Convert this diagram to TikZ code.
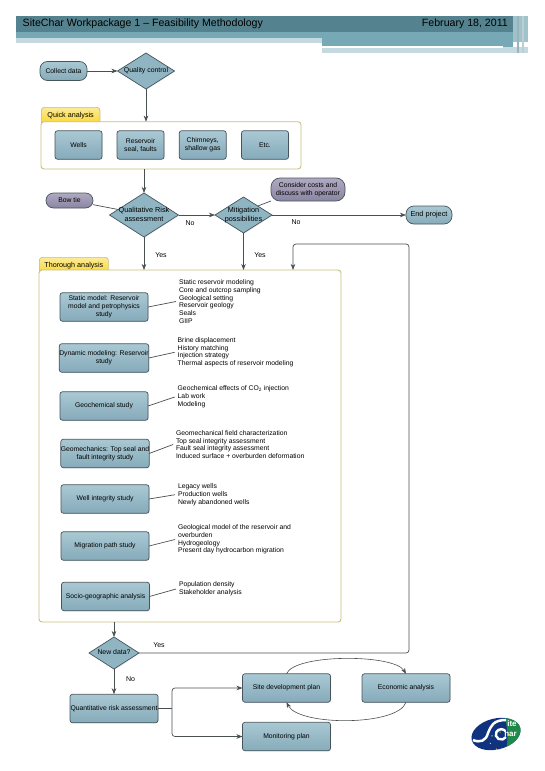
\documentclass[tikz,border=0pt]{standalone}
\usepackage{fontspec}
\setmainfont{Liberation Sans}
\usetikzlibrary{arrows.meta, positioning, shapes.geometric, shadows}
\definecolor{cHead}{HTML}{54838F}
\definecolor{cHeadMid}{HTML}{77A8B5}
\definecolor{cHeadPale}{HTML}{C4DAE0}
\definecolor{cBoxTop}{HTML}{A9C8D3}
\definecolor{cBoxBot}{HTML}{86ABBA}
\definecolor{cDiam}{HTML}{8FB5C3}
\definecolor{cTermTop}{HTML}{B0A9C2}
\definecolor{cTermBot}{HTML}{8A85A2}
\definecolor{cEdge}{HTML}{46545C}
\definecolor{cPanel}{HTML}{C9BF7C}
\definecolor{cTabTop}{HTML}{FBEB9A}
\definecolor{cTabBot}{HTML}{FBD420}
\definecolor{cLine}{HTML}{4A4F52}
\definecolor{cLogo}{HTML}{10337F}
\definecolor{cLogoG}{HTML}{1E8A4A}
\newcommand{\dtext}[1]{\smash{\raisebox{-0.25em}{\makebox[0pt]{\begin{tabular}{@{}c@{}}#1\end{tabular}}}}}

\begin{document}
\begin{tikzpicture}[x=1pt, y=-1pt,
    >=Stealth,
    box/.style={
        rectangle, rounded corners=2.5pt, draw=cEdge, top color=cBoxTop, bottom color=cBoxBot,
        line width=0.7pt, minimum height=#1, minimum width=47pt, inner sep=0pt, outer sep=0pt,
        font=\fontsize{6.8}{8}\selectfont, align=center, text=black,
        drop shadow={opacity=0.12, shadow xshift=0.8pt, shadow yshift=-0.8pt}
    },
    box/.default=28.5pt,
    study/.style={box=28.5pt, minimum width=88pt},
    diam/.style={
        diamond, draw=cEdge, fill=cDiam, line width=0.7pt, inner sep=0pt, outer sep=0pt,
        font=\fontsize{#1}{8.7}\selectfont, text=black,
        drop shadow={opacity=0.12, shadow xshift=0.8pt, shadow yshift=-0.8pt}
    },
    diam/.default=6.9,
    term/.style={
        rectangle, rounded corners=7.5pt, draw=cEdge, line width=0.7pt, outer sep=0pt, inner sep=0pt,
        font=\fontsize{6.8}{8}\selectfont, align=center, text=black
    },
    bluet/.style={term, top color=cBoxTop, bottom color=cBoxBot},
    greyt/.style={term, top color=cTermTop, bottom color=cTermBot},
    panel/.style={
        rectangle, rounded corners=3pt, draw=cPanel, fill=white, line width=0.9pt,
        anchor=north west, outer sep=0pt, inner sep=0pt
    },
    tabbox/.style={
        rectangle, rounded corners=3pt, draw=cPanel, top color=cTabTop, bottom color=cTabBot,
        line width=0.7pt, anchor=north west, inner ysep=0pt, text height=10.5pt, text depth=8pt,
        font=\fontsize{7.2}{8}\selectfont, text=black
    },
    txtlist/.style={
        anchor=west, align=left, inner sep=3pt, outer sep=0pt,
        font=\fontsize{6.8}{7.8}\selectfont, text=black
    },
    lbl/.style={font=\fontsize{7}{8}\selectfont, text=black},
    arr/.style={->, line width=0.7pt, color=cLine},
    lnk/.style={line width=0.7pt, color=cLine},
    curv/.style={->, line width=0.6pt, color=cLine},
]
\useasboundingbox (0,0) rectangle (544,771);

% Header band
\fill[cHeadPale] (16,38) rectangle (322,42.5);
\fill[cHeadMid] (322,38) rectangle (513,47);
\fill[cHeadPale] (322,47) rectangle (528,52.7);
\fill[white] (322,46) rectangle (503,47.6);
\fill[cHeadMid] (16,31.5) rectangle (528,38);
\fill[cHead] (16,16) rectangle (513,31.5);
\fill[cHeadMid!70] (513,16) rectangle (528,42);
\fill[cHead!60] (517,16) rectangle (519,52.7);
\fill[cHead!40] (522,16) rectangle (524,52.7);
\node[anchor=west, inner sep=0pt, font=\fontsize{10.6}{12}\selectfont] (title) at (22.5,23.7) {SiteChar Workpackage 1 – Feasibility Methodology};
\node[anchor=east, inner sep=0pt, font=\fontsize{10.6}{12}\selectfont] (date) at (508,23.7) {February 18, 2011};

% Top row
\node[bluet, minimum width=47pt, minimum height=19pt] (collect) at (63.5,71) {Collect data};
\node[diam, minimum width=57pt, minimum height=36pt] (quality) at (146,71) {\dtext{Quality control}};

% Quick analysis
\node[tabbox, minimum width=58.6pt, minimum height=18.5pt] (quicktab) at (41,107) {Quick analysis};
\node[panel, minimum width=260pt, minimum height=47.3pt] (quick) at (41,121.7) {};
\node[box] (wells)  at ( 78.5,145) {Wells};
\node[box] (seal)   at (140.5,145) {Reservoir\\seal, faults};
\node[box] (chim)   at (202.7,145) {Chimneys,\\shallow gas};
\node[box] (etc)    at (265.0,145) {Etc.};

% Risk row
\node[diam=7.3, minimum width=69pt, minimum height=44pt] (qual) at (144,215) {\dtext{Qualitative Risk\\assessment}};
\node[diam=7.3, minimum width=57pt, minimum height=36pt] (mitig) at (243.5,215) {\dtext{Mitigation\\possibilities}};
\node[greyt, minimum width=47pt, minimum height=15pt] (bowtie) at (69.5,200.5) {Bow tie};
\node[greyt, rounded corners=9pt, minimum width=74pt, minimum height=23pt] (costs) at (308,189.5) {Consider costs and\\discuss with operator};
\node[bluet, rounded corners=8pt, font=\fontsize{7.3}{8}\selectfont, minimum width=46pt, minimum height=18pt] (endp) at (429,215) {End project};

% Thorough analysis
\node[tabbox, minimum width=69pt, minimum height=17pt] (thorotab) at (39,257) {Thorough analysis};
\node[panel, minimum width=302pt, minimum height=352pt] (thoro) at (39,270) {};

\node[study] (static)  at (104,307) {Static model: Reservoir\\model and petrophysics\\study};
\node[study] (dynamic) at (104,358) {Dynamic modeling: Reservoir\\study};
\node[study] (geochem) at (104,406) {Geochemical study};
\node[study] (geomech) at (105,453.5) {Geomechanics: Top seal and\\fault integrity study};
\node[study] (well)    at (105,499) {Well integrity study};
\node[study] (migr)    at (105,546) {Migration path study};
\node[study] (socio)   at (105.5,596.5) {Socio-geographic analysis};

\node[txtlist] (staticl)  at (176,301.5) {Static reservoir modeling\\Core and outcrop sampling\\Geological setting\\Reservoir geology\\Seals\\GIIP};
\node[txtlist] (dynamicl) at (174.7,352.3) {Brine displacement\\History matching\\Injection strategy\\Thermal aspects of reservoir modeling};
\node[txtlist] (geochemi) at (174.7,397) {Geochemical effects of CO\textsubscript{2} injection\\Lab work\\Modeling};
\node[txtlist] (geomechl) at (173,444.5) {Geomechanical field characterization\\Top seal integrity assessment\\Fault seal integrity assessment\\Induced surface + overburden deformation};
\node[txtlist] (welll)    at (175,494.7) {Legacy wells\\Production wells\\Newly abandoned wells};
\node[txtlist] (migrl)    at (175,539.5) {Geological model of the reservoir and\\overburden\\Hydrogeology\\Present day hydrocarbon migration};
\node[txtlist] (sociol)   at (176,589) {Population density\\Stakeholder analysis};

% Bottom section
\node[diam=6.9, minimum width=50pt, minimum height=32pt] (newdata) at (114,653) {\dtext{New data?}};
\node[study] (quant) at (114,708.5) {Quantitative risk assessment};
\node[study] (site)  at (286.5,688) {Site development plan};
\node[study] (econ)  at (406,688) {Economic analysis};
\node[study] (moni)  at (286.5,736.5) {Monitoring plan};

% Labels
\node[lbl] (no1)  at (190,223) {No};
\node[lbl] (no2)  at (296,222.5) {No};
\node[lbl] (yes1) at (161,255) {Yes};
\node[lbl] (yes2) at (260,255) {Yes};
\node[lbl] (yes3) at (159,645) {Yes};
\node[lbl] (no3)  at (130.5,679) {No};

% Free ends of the loop and the fork
\coordinate (loopin) at (293,270);
\coordinate (loopr)  at (409,653);
\coordinate (forkx)  at (172,708.5);

% Arrows - top section
\draw[arr] (collect) -- (quality);
\draw[arr] (quality.south) -- (quality.south |- quick.north);
\draw[arr] (qual.north |- quick.south) -- (qual.north);
\draw[arr] (qual) -- (mitig);
\draw[arr] (mitig) -- (endp);
\draw[arr] (qual.south) -- (qual.south |- thoro.north);
\draw[arr] (mitig.south) -- (mitig.south |- thoro.north);
\draw[lnk] (bowtie.-10) -- (qual.168);
\draw[lnk] (mitig.north east) -- (costs.south west);

% Arrows - studies to their lists
\foreach \a/\b in {static/staticl, dynamic/dynamicl, geochem/geochemi, geomech/geomechl, well/welll, migr/migrl, socio/sociol}
    \draw[lnk] (\a.east) -- (\b.west);

% Arrows - bottom section
\draw[arr] (newdata.north |- thoro.south) -- (newdata.north);
\draw[arr] (newdata) -- (quant);
\draw[arr, rounded corners=3pt] (newdata.east) -- (loopr) -- (loopr |- 0,244) -- (loopin |- 0,244) -- (loopin);
\draw[lnk] (quant.east) -- (forkx);
\draw[arr, rounded corners=3pt] (forkx) |- (site.west);
\draw[arr, rounded corners=3pt] (forkx) |- (moni.west);
\draw[curv] (site.north) .. controls +(8,-20) and +(-12,-20) .. (econ.north);
\draw[curv] (econ.south) .. controls +(-8,24) and +(12,24) .. (site.south);

% Logo
\begin{scope}
    \clip[rotate around={14:(496,734)}] (496,734) ellipse (25 and 15.5);
    \fill[cLogo] (465,710) rectangle (525,755);
    \fill[cLogoG] (504,710) .. controls (506,725) and (510,735) .. (505,755) -- (525,755) -- (525,710) -- cycle;
\end{scope}
\draw[white, line width=2.5pt] (506,720) .. controls (493,720) and (491,726) .. (488,733) .. controls (486,741) and (480,743) .. (473,740);
\draw[white, line width=2.4pt] (506,737) arc (30:320:5.5 and 5.2);
\node[inner sep=0pt, text=white, font=\fontsize{8}{9}\bfseries\selectfont] (logoite) at (512,724) {ite};
\node[inner sep=0pt, text=white, font=\fontsize{8}{9}\bfseries\selectfont] (logohar) at (510.5,733.5) {har};
\foreach \p in {65,115,165,215,265,310}
    \fill[yellow!80!orange] (501,741) ++(\p:11 and 9) circle (0.7);
\end{tikzpicture}
\end{document}
